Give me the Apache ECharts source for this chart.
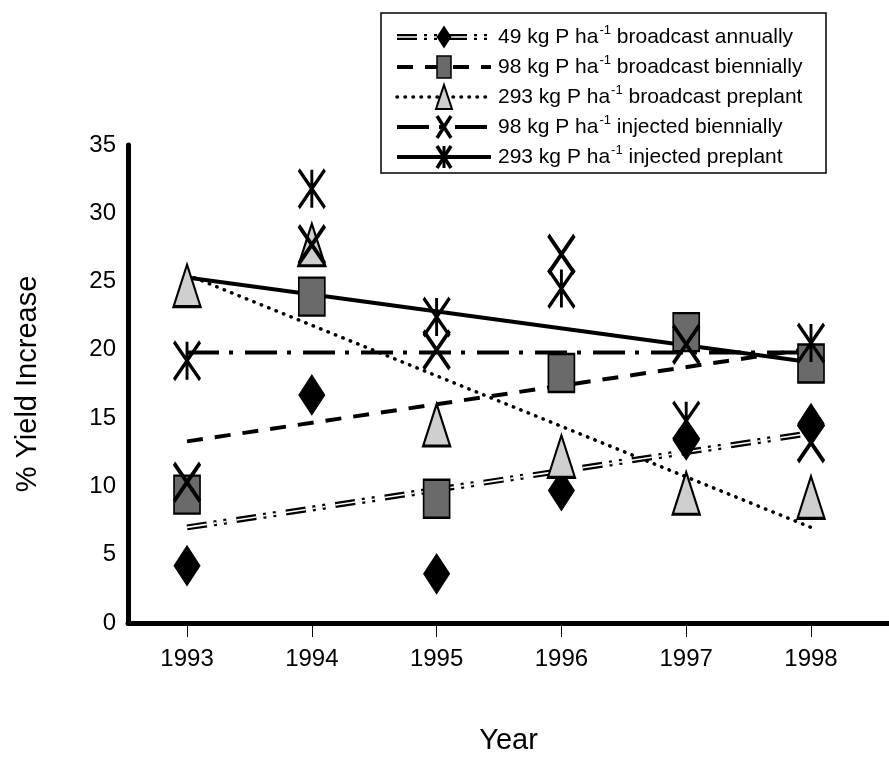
<!DOCTYPE html>
<html><head><meta charset="utf-8">
<script src="https://cdn.jsdelivr.net/npm/echarts@6/dist/echarts.min.js"></script>
<style>html,body{margin:0;padding:0;background:#fff}#c{width:889px;height:760px}</style>
</head><body><div id="c"></div>
<script>
// ---------------- data ----------------
const years = [1993, 1994, 1995, 1996, 1997, 1998];
const yTicks = [0, 5, 10, 15, 20, 25, 30, 35];
const seriesLabels = [
  ['49 kg P ha', '-1', ' broadcast annually'],
  ['98 kg P ha', '-1', ' broadcast biennially'],
  ['293 kg P ha', '-1', ' broadcast preplant'],
  ['98 kg P ha', '-1', ' injected biennially'],
  ['293 kg P ha', '-1', ' injected preplant']
];
const bcAnnual    = [4.2, 16.7, 3.6, 9.7, 13.4, 14.6];
const bcBiennial  = [9.4, 23.9, 9.1, 18.3, 21.3, 19.0];
const bcPreplant  = [24.7, 27.7, 14.5, 12.2, 9.5, 9.2];
const injBiennial = [10.3, 27.7, 20.0, 27.0, 20.4, 13.2];
const injPreplant = [19.2, 31.8, 22.4, 24.5, 14.8, 20.5];
// fitted trend lines (endpoints)
const trendYears = [1993, 1998];
const trendBcAnnual    = [7.0, 13.9];
const trendBcBiennial  = [13.3, 20.1];
const trendBcPreplant  = [25.5, 7.0];
const trendInjBiennial = [19.8, 19.8];
const trendInjPreplant = [25.3, 19.1];

// ---------------- styles ----------------
const FONT = "'Liberation Sans', Arial, sans-serif";
const X_PATH = 'path://M0,0 L26,38 M26,0 L0,38';
const AST_PATH = 'path://M0,0 L26,38 M26,0 L0,38 M13,0 L13,38';
const DASH_ANNUAL = [20, 7, 3, 7, 3, 10];
const DASH_BIEN = [16, 12];
const DOT = [0.5, 7.5];
const DASH_DOT = [32, 10, 4, 12];

function pts(xs, ys) { return xs.map((x, i) => [x, ys[i]]); }

const markerDefs = [
  { data: bcAnnual, symbol: 'diamond', size: [26, 40], itemStyle: { color: '#000', borderColor: '#000', borderWidth: 1, opacity: 1 } },
  { data: bcBiennial, symbol: 'rect', size: [26, 38], itemStyle: { color: '#6a6a6a', borderColor: '#000', borderWidth: 2, opacity: 1 } },
  { data: bcPreplant, symbol: 'triangle', size: [27, 42], itemStyle: { color: '#cfcfcf', borderColor: '#000', borderWidth: 2.5, opacity: 1 } },
  { data: injBiennial, symbol: X_PATH, size: [26, 38], itemStyle: { color: 'rgba(0,0,0,0)', borderColor: '#000', borderWidth: 4, opacity: 1 } },
  { data: injPreplant, symbol: AST_PATH, size: [26, 38], itemStyle: { color: 'rgba(0,0,0,0)', borderColor: '#000', borderWidth: 3.5, opacity: 1 } }
];

const trendDefs = [
  { data: trendBcAnnual, styles: [{ width: 6, color: '#000', type: DASH_ANNUAL, cap: 'butt' }, { width: 1.6, color: '#fff', type: DASH_ANNUAL, cap: 'butt' }] },
  { data: trendBcBiennial, styles: [{ width: 4, color: '#000', type: DASH_BIEN, cap: 'butt' }] },
  { data: trendBcPreplant, styles: [{ width: 3.5, color: '#000', type: DOT, cap: 'round' }] },
  { data: trendInjBiennial, styles: [{ width: 4, color: '#000', type: DASH_DOT, cap: 'butt' }] },
  { data: trendInjPreplant, styles: [{ width: 4, color: '#000', type: 'solid', cap: 'butt' }] }
];

const series = [];
trendDefs.forEach((t, i) => {
  t.styles.forEach((ls, j) => {
    series.push({
      type: 'line', name: 'trend' + i + '_' + j, data: pts(trendYears, t.data),
      showSymbol: false, symbol: 'none', silent: true, z: 2 + j,
      lineStyle: Object.assign({ opacity: 1 }, ls), animation: false
    });
  });
});
markerDefs.forEach((m, i) => {
  series.push({
    type: 'scatter', name: 's' + i, data: pts(years, m.data),
    symbol: m.symbol, symbolSize: m.size, itemStyle: m.itemStyle, z: 5 + i, animation: false,
    emphasis: { disabled: true }
  });
});

// ---------------- legend (drawn) ----------------
const graphic = [];
const LX0 = 397, LX1 = 491, LMX = 444, TX = 498, ROW0 = 37, ROWH = 30;
graphic.push({ type: 'rect', shape: { x: 381, y: 13, width: 445, height: 160 },
  style: { fill: '#fff', stroke: '#000', lineWidth: 1.5 }, z: 50 });
function lineEl(y, st) {
  return { type: 'line', shape: { x1: LX0, y1: y, x2: LX1, y2: y },
    style: { stroke: st.color, lineWidth: st.width, lineDash: Array.isArray(st.type) ? st.type : null, lineCap: st.cap }, z: 51 };
}
function markerEls(i, y) {
  const w = 15, h = 23, els = [];
  if (i === 0) {
    els.push({ type: 'polygon', shape: { points: [[LMX, y - h / 2], [LMX + w / 2, y], [LMX, y + h / 2], [LMX - w / 2, y]] }, style: { fill: '#000' }, z: 53 });
  } else if (i === 1) {
    els.push({ type: 'rect', shape: { x: LMX - 7, y: y - 11, width: 14, height: 22 }, style: { fill: '#6a6a6a', stroke: '#000', lineWidth: 1.5 }, z: 53 });
  } else if (i === 2) {
    els.push({ type: 'polygon', shape: { points: [[LMX, y - 12], [LMX + 8, y + 12], [LMX - 8, y + 12]] }, style: { fill: '#cfcfcf', stroke: '#000', lineWidth: 2 }, z: 53 });
  } else {
    els.push({ type: 'line', shape: { x1: LMX - 7, y1: y - 11, x2: LMX + 7, y2: y + 11 }, style: { stroke: '#000', lineWidth: 3.5 }, z: 53 });
    els.push({ type: 'line', shape: { x1: LMX + 7, y1: y - 11, x2: LMX - 7, y2: y + 11 }, style: { stroke: '#000', lineWidth: 3.5 }, z: 53 });
    if (i === 4) els.push({ type: 'line', shape: { x1: LMX, y1: y - 11, x2: LMX, y2: y + 11 }, style: { stroke: '#000', lineWidth: 3 }, z: 53 });
  }
  return els;
}
trendDefs.forEach((t, i) => {
  const y = ROW0 + i * ROWH;
  t.styles.forEach((st, j) => { const e = lineEl(y, st); e.z = 51 + j; graphic.push(e); });
  markerEls(i, y).forEach(e => graphic.push(e));
  const lab = seriesLabels[i];
  graphic.push({ type: 'text', x: TX, y: y, z: 55,
    style: { text: '{a|' + lab[0] + '}{b|' + lab[1] + '}{a|' + lab[2] + '}',
      verticalAlign: 'middle', textVerticalAlign: 'middle',
      rich: { a: { fontSize: 21, fontFamily: FONT, fill: '#000', lineHeight: 26 },
              b: { fontSize: 13, fontFamily: FONT, fill: '#000', lineHeight: 26, verticalAlign: 'top', padding: [0, 0, 0, 1] } } } });
});

// ---------------- chart ----------------
const chart = echarts.init(document.getElementById('c'), null, { renderer: 'canvas' });
chart.setOption({
  backgroundColor: '#fff',
  animation: false,
  grid: { left: 128, right: 0, top: 145, bottom: 134, containLabel: false },
  xAxis: {
    type: 'value', min: 1992.527, max: 1998.625,
    name: 'Year', nameLocation: 'middle', nameGap: 103,
    nameTextStyle: { fontSize: 29, fontFamily: FONT, color: '#000' },
    axisLine: { show: true, lineStyle: { color: '#000', width: 5 } },
    axisTick: { show: true, customValues: years, length: 14, lineStyle: { color: '#000', width: 1 } },
    axisLabel: { customValues: years, fontSize: 24, fontFamily: FONT, color: '#000', margin: 24, formatter: v => String(v) },
    splitLine: { show: false }
  },
  yAxis: {
    type: 'value', min: 0, max: 35, interval: 5,
    name: '% Yield Increase', nameLocation: 'middle', nameGap: 86, nameRotate: 90,
    nameTextStyle: { fontSize: 29, fontFamily: FONT, color: '#000' },
    axisLine: { show: true, lineStyle: { color: '#000', width: 5 } },
    axisTick: { show: false },
    axisLabel: { customValues: yTicks, fontSize: 24, fontFamily: FONT, color: '#000', margin: 12 },
    splitLine: { show: false }
  },
  series: series,
  graphic: graphic
});
</script></body></html>
